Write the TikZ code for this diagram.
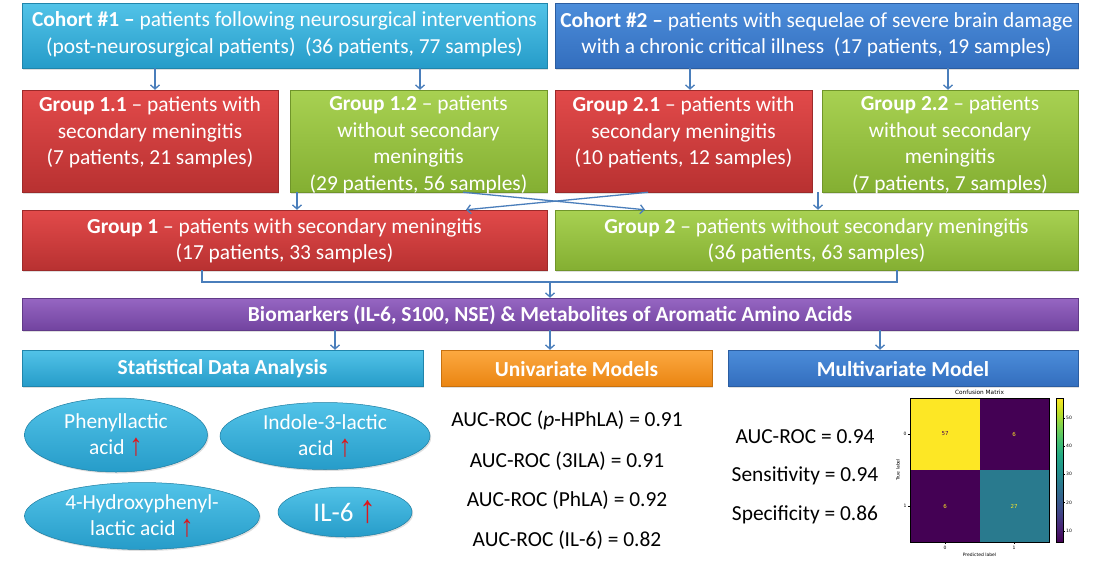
\documentclass[tikz,border=0pt]{standalone}
\usepackage{fontspec}
\usepackage{graphicx}
\setmainfont{Carlito}
\newfontfamily\symfont{Liberation Sans}
\newfontfamily\plotfont{DejaVu Sans}
\usetikzlibrary{shapes.geometric,arrows.meta,shadows,calc}
\definecolor{cyanT}{HTML}{52C3E8}
\definecolor{cyanB}{HTML}{269CC9}
\definecolor{blueT}{HTML}{4C8DDA}
\definecolor{blueB}{HTML}{336EBE}
\definecolor{redT}{HTML}{E24A4A}
\definecolor{redB}{HTML}{B83131}
\definecolor{grnT}{HTML}{A8D152}
\definecolor{grnB}{HTML}{84AF32}
\definecolor{purT}{HTML}{9666C2}
\definecolor{purB}{HTML}{7244A0}
\definecolor{orgT}{HTML}{FCA941}
\definecolor{orgB}{HTML}{EA8512}
\definecolor{lineC}{HTML}{4A7EBB}
\definecolor{upred}{HTML}{E0161B}
\definecolor{vA}{HTML}{440154}
\definecolor{vB}{HTML}{482475}
\definecolor{vC}{HTML}{414487}
\definecolor{vD}{HTML}{355F8D}
\definecolor{vE}{HTML}{2A788E}
\definecolor{vF}{HTML}{21918C}
\definecolor{vG}{HTML}{22A884}
\definecolor{vH}{HTML}{44BF70}
\definecolor{vI}{HTML}{7AD151}
\definecolor{vJ}{HTML}{BDDF26}
\definecolor{vK}{HTML}{FDE725}
\definecolor{vMid}{HTML}{297A8E}
\newcommand\upar{{\color{upred}\raisebox{-0.04em}{\scalebox{1.25}[1.45]{\symfont ↑}}}}
\tikzset{
 bx/.style 2 args={rectangle, top color=#1, bottom color=#2, draw=#2!85!black, line width=0.5pt, inner sep=0pt,
   drop shadow={opacity=0.25, shadow xshift=1.2pt, shadow yshift=-1.5pt}},
 txt/.style={text=white, align=center, inner sep=0pt, font=\fontsize{21.4}{26.5}\selectfont},
 hdr/.style={text=white, inner sep=0pt, font=\bfseries\fontsize{21.4}{24}\selectfont},
 conn/.style={draw=lineC, line width=1.3pt, -{Straight Barb[length=4pt,width=9pt]}},
 wire/.style={draw=lineC, line width=1.3pt},
 ell/.style={ellipse, top color=cyanT, bottom color=cyanB, draw=cyanB!80!black, line width=0.5pt, inner sep=0pt,
   drop shadow={opacity=0.25, shadow xshift=1.2pt, shadow yshift=-1.5pt}},
 res/.style={text=black, inner sep=0pt, font=\fontsize{21.4}{24}\selectfont},
 pf/.style={inner sep=0pt, font=\plotfont\fontsize{4.5}{5}\selectfont},
 cmnum/.style={inner sep=0pt, font=\plotfont\fontsize{5.5}{6}\selectfont},
}
\begin{document}
\begin{tikzpicture}[x=1pt,y=-1pt]
\useasboundingbox[fill=white] (0,0) rectangle (1100,560);
% cohorts
\node[bx={cyanT}{cyanB}, minimum width=525pt, minimum height=65pt] (c1) at (284.5,35.5) {};
\node[txt] (c1t) at ([yshift=1pt]c1) {\textbf{Cohort \#1 –} patients following neurosurgical interventions\\(post-neurosurgical patients)\ \ (36 patients, 77 samples)};
\node[bx={blueT}{blueB}, minimum width=523pt, minimum height=65pt] (c2) at (816.5,35.5) {};
\node[txt] (c2t) at ([yshift=1pt]c2) {\textbf{Cohort \#2 –} patients with sequelae of severe brain damage\\with a chronic critical illness\ \ (17 patients, 19 samples)};
% subgroups
\node[bx={redT}{redB}, minimum width=256pt, minimum height=102pt] (g11) at (150,141) {};
\node[txt, anchor=north] (g11t) at ([yshift=-7pt]g11.north) {\textbf{Group 1.1} – patients with\\secondary meningitis\\(7 patients, 21 samples)};
\node[bx={grnT}{grnB}, minimum width=257pt, minimum height=102pt] (g12) at (418.5,141) {};
\node[txt, anchor=north] (g12t) at ([yshift=-6pt]g12.north) {\textbf{Group 1.2} – patients\\without secondary\\meningitis\\(29 patients, 56 samples)};
\node[bx={redT}{redB}, minimum width=257pt, minimum height=102pt] (g21) at (683.5,141) {};
\node[txt, anchor=north] (g21t) at ([yshift=-7pt]g21.north) {\textbf{Group 2.1} – patients with\\secondary meningitis\\(10 patients, 12 samples)};
\node[bx={grnT}{grnB}, minimum width=256pt, minimum height=102pt] (g22) at (950,141) {};
\node[txt, anchor=north] (g22t) at ([yshift=-6pt]g22.north) {\textbf{Group 2.2} – patients\\without secondary\\meningitis\\(7 patients, 7 samples)};
% groups
\node[bx={redT}{redB}, minimum width=525pt, minimum height=60pt] (g1) at (284.5,240) {};
\node[txt] (g1t) at ([yshift=-1pt]g1) {\textbf{Group 1} – patients with secondary meningitis\\(17 patients, 33 samples)};
\node[bx={grnT}{grnB}, minimum width=523pt, minimum height=60pt] (g2) at (816.5,240) {};
\node[txt] (g2t) at ([yshift=-1pt]g2) {\textbf{Group 2} – patients without secondary meningitis\\(36 patients, 63 samples)};
% biomarkers
\node[bx={purT}{purB}, minimum width=1056pt, minimum height=32pt] (bio) at (550,314) {};
\node[hdr] (biot) at ([yshift=-1pt]bio) {Biomarkers (IL-6, S100, NSE) \& Metabolites of Aromatic Amino Acids};
% analysis headers
\node[bx={cyanT}{cyanB}, minimum width=401pt, minimum height=36pt] (stat) at (222.5,368) {};
\node[hdr] (statt) at ([yshift=-1pt]stat) {Statistical Data Analysis};
\node[bx={orgT}{orgB}, minimum width=271pt, minimum height=36pt] (uni) at (576.5,368) {};
\node[hdr] (unit) at ([yshift=-1pt]uni) {Univariate Models};
\node[bx={blueT}{blueB}, minimum width=350pt, minimum height=36pt] (mul) at (903,368) {};
\node[hdr] (mult) at ([yshift=-1pt]mul) {Multivariate Model};
% connectors
\draw[conn] ([xshift=-129.5pt]c1.south) -- ([xshift=-129.5pt]c1.south |- g11.north);
\draw[conn] ([xshift=135.5pt]c1.south) -- ([xshift=135.5pt]c1.south |- g12.north);
\draw[conn] ([xshift=-126.5pt]c2.south) -- ([xshift=-126.5pt]c2.south |- g21.north);
\draw[conn] ([xshift=131.5pt]c2.south) -- ([xshift=131.5pt]c2.south |- g22.north);
\draw[conn] ([xshift=-121.5pt]g12.south) -- ([xshift=-121.5pt]g12.south |- g1.north);
\draw[conn] ([xshift=-132pt]g22.south) -- ([xshift=-132pt]g22.south |- g2.north);
\draw[conn] ([xshift=44.5pt]g12.south) -- ([xshift=-171.5pt]g2.north);
\draw[conn] ([xshift=-35.5pt]g21.south) -- ([xshift=181.5pt]g1.north);
\coordinate (m) at (550,282);
\draw[wire] ([xshift=-82.5pt]g1.south) |- (m) -| ([xshift=80.5pt]g2.south);
\draw[conn] (m) -- (bio.north);
\draw[conn] ([xshift=-215pt]bio.south) -- ([xshift=-215pt]bio.south |- stat.north);
\draw[conn] (bio.south) -- (bio.south |- uni.north);
\draw[conn] ([xshift=330pt]bio.south) -- ([xshift=330pt]bio.south |- mul.north);
% ellipses
\node[ell, minimum width=183pt, minimum height=74pt] (e1) at (116,435) {};
\node[txt] (e1t) at (e1) {Phenyllactic\\acid \upar};
\node[ell, minimum width=210pt, minimum height=67pt] (e2) at (325,436) {};
\node[txt] (e2t) at (e2) {Indole-3-lactic\\acid \upar};
\node[ell, minimum width=235pt, minimum height=67pt] (e3) at (142,516) {};
\node[txt] (e3t) at (e3) {4-Hydroxyphenyl-\\lactic acid \upar};
\node[ell, minimum width=134pt, minimum height=50pt] (e4) at (345,512) {};
\node[txt, font=\fontsize{27}{30}\selectfont] (e4t) at (e4) {IL-6 \upar};
% univariate results
\node[res] (u1) at (567,420) {AUC-ROC (\textit{p}-HPhLA) = 0.91};
\node[res] (u2) at (567,461) {AUC-ROC (3ILA) = 0.91};
\node[res] (u3) at (567,500) {AUC-ROC (PhLA) = 0.92};
\node[res] (u4) at (567,540) {AUC-ROC (IL-6) = 0.82};
% multivariate results
\node[res] (r1) at (805,437) {AUC-ROC = 0.94};
\node[res] (r2) at (805,476) {Sensitivity = 0.94};
\node[res] (r3) at (805,515) {Specificity = 0.86};
% confusion matrix
\fill[vK] (910,398) rectangle (979.5,470);
\fill[vA] (979.5,398) rectangle (1049,470);
\fill[vA] (910,470) rectangle (979.5,542);
\fill[vMid] (979.5,470) rectangle (1049,542);
\draw[black, line width=0.3pt] (910,398) rectangle (1049,542);
\node[cmnum, text=vA] (n00) at (945,434) {57};
\node[cmnum, text=vK] (n01) at (1014,434) {6};
\node[cmnum, text=vK] (n10) at (945,506) {6};
\node[cmnum, text=vK] (n11) at (1014,506) {27};
\draw[line width=0.3pt] (908,434) -- (910,434) (908,506) -- (910,506);
\draw[line width=0.3pt] (945,542) -- (945,544) (1014,542) -- (1014,544);
\node[pf] (ty0) at (905,434) {0};
\node[pf] (ty1) at (905,506) {1};
\node[pf] (tx0) at (945,548) {0};
\node[pf] (tx1) at (1014,548) {1};
\node[pf] (xl) at (979.5,555) {Predicted label};
\node[pf, rotate=90] (yl) at (898,470) {True label};
\node[inner sep=0pt, font=\plotfont\fontsize{5.8}{6}\selectfont] (cmt) at (979.5,392) {Confusion Matrix};
% colorbar
\shade[bottom color=vA, top color=vB] (1056,542) rectangle (1063,527.6);
\shade[bottom color=vB, top color=vC] (1056,527.6) rectangle (1063,513.2);
\shade[bottom color=vC, top color=vD] (1056,513.2) rectangle (1063,498.8);
\shade[bottom color=vD, top color=vE] (1056,498.8) rectangle (1063,484.4);
\shade[bottom color=vE, top color=vF] (1056,484.4) rectangle (1063,470);
\shade[bottom color=vF, top color=vG] (1056,470) rectangle (1063,455.6);
\shade[bottom color=vG, top color=vH] (1056,455.6) rectangle (1063,441.2);
\shade[bottom color=vH, top color=vI] (1056,441.2) rectangle (1063,426.8);
\shade[bottom color=vI, top color=vJ] (1056,426.8) rectangle (1063,412.4);
\shade[bottom color=vJ, top color=vK] (1056,412.4) rectangle (1063,398);
\draw[black, line width=0.3pt] (1056,398) rectangle (1063,542);
\foreach \v/\yy in {10/530.7,20/502.5,30/474.2,40/446.0,50/417.8}{
  \draw[line width=0.3pt] (1063,\yy) -- (1065,\yy);
  \node[pf, anchor=west] (cb\v) at (1066,\yy) {\v};
}
\end{tikzpicture}
\end{document}
